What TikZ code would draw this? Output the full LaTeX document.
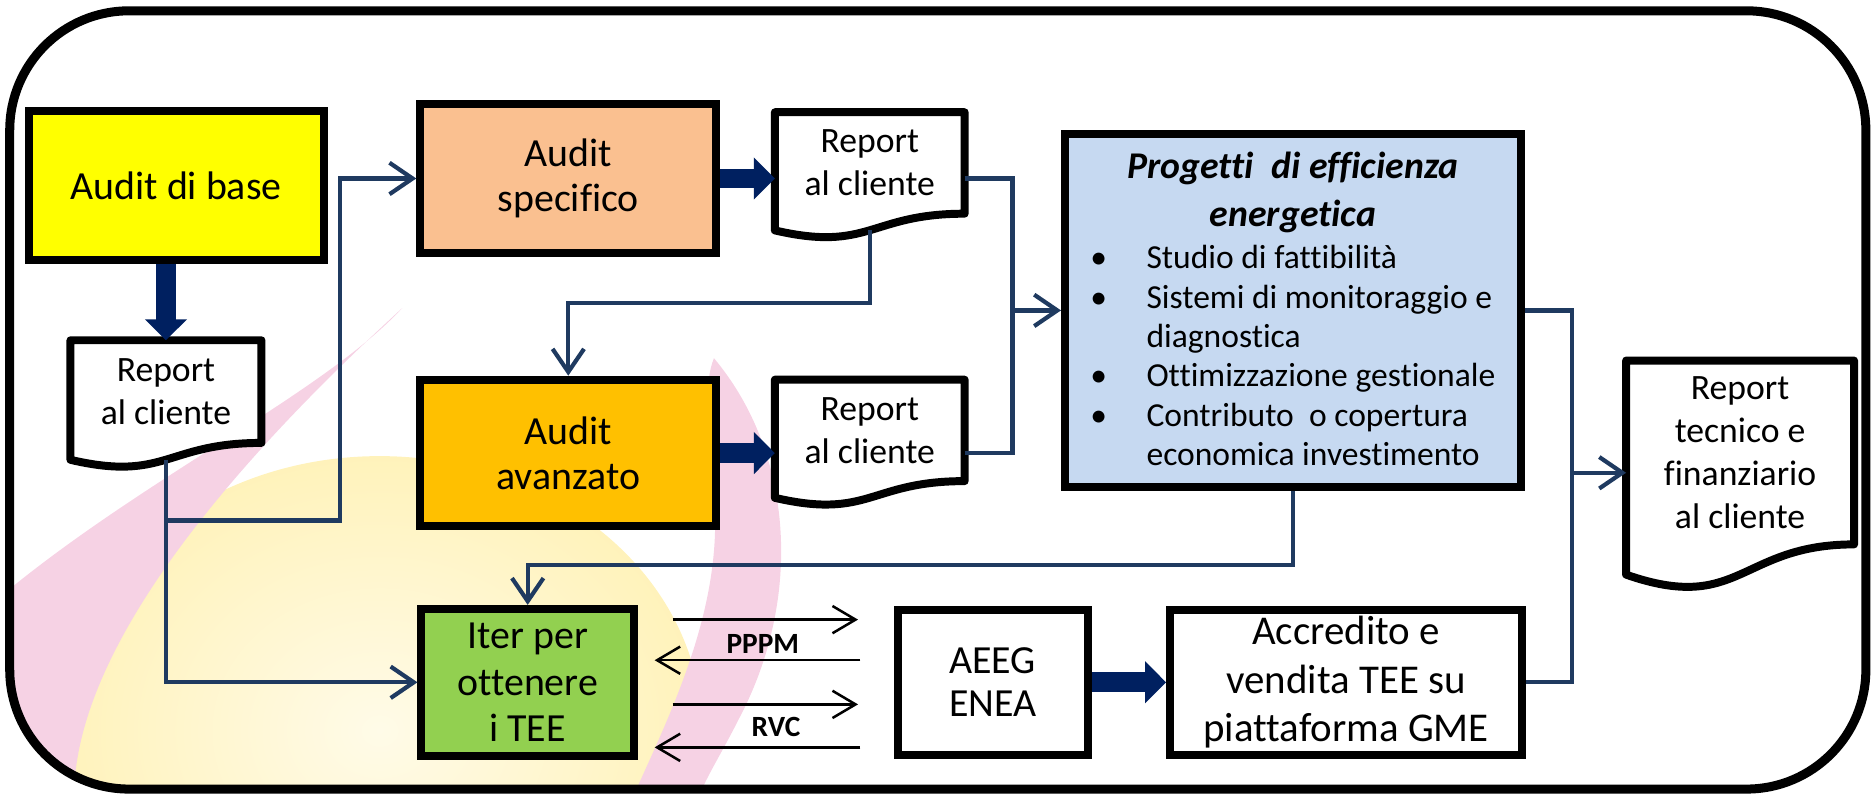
\documentclass[tikz,border=0pt]{standalone}
\usepackage{fontspec}
\setmainfont{Carlito}[Ligatures={TeX,NoCommon}]
\usetikzlibrary{arrows.meta,calc,backgrounds}
\definecolor{navyarrow}{RGB}{0,32,96}
\definecolor{linkblue}{RGB}{31,58,96}
\definecolor{basefill}{RGB}{255,255,0}
\definecolor{specfill}{RGB}{250,192,144}
\definecolor{avanfill}{RGB}{255,192,0}
\definecolor{progfill}{RGB}{198,217,241}
\definecolor{iterfill}{RGB}{146,208,80}
\definecolor{wmpink}{RGB}{246,210,228}
\definecolor{wmyellow}{RGB}{255,242,185}
\definecolor{wmyellowlt}{RGB}{255,251,232}
\pgfdeclareradialshading{wmglow}{\pgfpoint{0bp}{0bp}}{color(0bp)=(wmyellowlt); color(26bp)=(wmyellow); color(36bp)=(wmyellow); color(50bp)=(white)}
\newcommand{\docframe}[1]{%
  \begin{pgfonlayer}{background}
    \draw[docline] (#1.north west) -- (#1.north east) -- (#1.south east)
      .. controls (#1.south) and ($(#1.north)!1.381!(#1.south)$)
      .. ($(#1.north west)!1.1646!(#1.south west)$) -- cycle;
  \end{pgfonlayer}
  \coordinate (#1-bot) at ($(#1.north)!1.163!(#1.south)$);}

\begin{document}
\begin{tikzpicture}[x=0.02cm, y=-0.02cm,
  box/.style={draw=black, line width=3.8pt, align=center, inner sep=2pt},
  big/.style={font=\fontsize{19}{21.5}\selectfont},
  doc/.style={align=center, inner sep=0pt, outer sep=0pt, font=\fontsize{17}{20.5}\selectfont},
  docline/.style={draw=black, fill=white, line width=3.8pt, line join=round},
  wire/.style={linkblue, line width=2pt},
  link/.style={wire, -{Straight Barb[length=11pt,width=15pt]}},
  fat/.style={navyarrow, line width=9.4pt, -{Triangle[length=10pt,width=19.5pt]}},
  msg/.style={black, line width=1.2pt, -{Straight Barb[length=11pt,width=13pt]}}]

\useasboundingbox (0,0) rectangle (1568,668);

% ===== faint logo behind the chart =====
\begin{pgfonlayer}{background}
  \begin{scope}
    \clip[rounded corners=2cm] (8,9) rectangle (1563,661);
    \shade[shading=wmglow] (318,612) ellipse (5.4cm and 4.6cm);
    \fill[wmpink] (337,258) .. controls (270,330) and (120,400) .. (0,500)
      -- (0,668) -- (62,668) .. controls (62,560) and (160,420) .. (337,258) -- cycle;
    \fill[wmpink] (598,300) .. controls (665,380) and (672,500) .. (620,600)
      .. controls (605,630) and (592,650) .. (585,668) -- (530,668)
      .. controls (560,600) and (612,500) .. (596,400)
      .. controls (592,350) and (590,320) .. cycle;
  \end{scope}
\end{pgfonlayer}

\node[draw, line width=4.3pt, rounded corners=2cm, minimum width=31.1cm, minimum height=13.04cm] (frame) at (785.5,335) {};

% ============ audits and reports ============
\node[box, fill=basefill, big, minimum width=4.94cm, minimum height=2.5cm] (base) at (147.5,155.5) {Audit di base};
\node[box, fill=specfill, big, minimum width=4.96cm, minimum height=2.5cm] (spec) at (476,149.5) {Audit\\specifico};
\node[box, fill=avanfill, big, minimum width=4.96cm, minimum height=2.46cm] (avan) at (476,379.5) {Audit\\avanzato};

\node[doc, minimum width=3.2cm, minimum height=1.72cm] (rep1) at (139,328) {Report\\al cliente};
\docframe{rep1}
\node[doc, minimum width=3.18cm, minimum height=1.7cm] (rep2) at (728.5,136.5) {Report\\al cliente};
\docframe{rep2}
\node[doc, minimum width=3.18cm, minimum height=1.7cm] (rep3) at (728.5,360.5) {Report\\al cliente};
\docframe{rep3}

% ============ projects ============
\node[box, fill=progfill, minimum width=7.64cm, minimum height=5.92cm] (prog) at (1083,260) {};
\node[font=\fontsize{18}{22.8}\selectfont\bfseries\itshape, align=center] (progtitle) at (1083,161)
  {Progetti\ \ di efficienza\\energetica};
\node[font=\fontsize{16}{18.8}\selectfont, anchor=west, inner sep=0pt] (proglist) at (913,301)
  {\begin{tabular}{@{}p{0.94cm}@{}l@{}}
    \textbullet & Studio di fattibilità\\
    \textbullet & Sistemi di monitoraggio e\\
                & diagnostica\\
    \textbullet & Ottimizzazione gestionale\\
    \textbullet & Contributo\ \ o copertura\\
                & economica investimento
  \end{tabular}};

\node[doc, minimum width=3.82cm, minimum height=3.08cm] (rtec) at (1457.5,379) {Report\\tecnico e\\finanziario\\al cliente};
\docframe{rtec}

% ============ TEE ============
\node[box, fill=iterfill, font=\fontsize{19}{22.2}\selectfont, minimum width=3.56cm, minimum height=2.46cm] (iter) at (442,571.5) {Iter per\\ottenere\\i TEE};
\node[box, fill=white, font=\fontsize{19}{20.5}\selectfont, minimum width=3.18cm, minimum height=2.42cm] (aeeg) at (831.5,571.5) {AEEG\\ENEA};
\node[box, fill=white, font=\fontsize{19.5}{23}\selectfont, minimum width=5.9cm, minimum height=2.42cm] (accr) at (1127.5,571.5) {Accredito e\\vendita TEE su\\piattaforma GME};

\node[font=\fontsize{14}{16}\selectfont\bfseries] (pppm) at (639,539) {PPPM};
\node[font=\fontsize{14}{16}\selectfont\bfseries] (rvc) at (650,609) {RVC};
\draw[msg] ($(iter.east)+(29,-52.5)$) -- ($(aeeg.west)+(-30,-52.5)$);
\draw[msg] ($(aeeg.west)+(-28,-18.5)$) -- ($(iter.east)+(14,-18.5)$);
\draw[msg] ($(iter.east)+(29,18.5)$) -- ($(aeeg.west)+(-30,18.5)$);
\draw[msg] ($(aeeg.west)+(-28,54.5)$) -- ($(iter.east)+(14,54.5)$);

% ============ connectors ============
\draw[fat] (rep1.north |- base.south) -- (rep1.north);
\draw[fat] (spec.east) -- (rep2.west |- spec.east);
\draw[fat] (avan.east) -- (rep3.west |- avan.east);
\draw[fat] (aeeg.east) -- (accr.west |- aeeg.east);

\coordinate (j1) at (139,436);
\coordinate (j2) at (285,436);
\draw[link] (rep1-bot) |- (j2) |- (spec.west);
\draw[link] (j1) |- (iter.west);

\coordinate (k1) at (476,254);
\draw[link] (rep2-bot) |- (k1) -- (avan.north);

\coordinate (m1) at (848,260);
\draw[wire] (rep2.east |- spec.east) -| (m1);
\draw[wire] (rep3.east |- avan.east) -| (m1);
\draw[link] (m1) -- (prog.west);

\coordinate (n1) at (442,473);
\draw[link] (prog.south) |- (n1) -- (iter.north);

\coordinate (p1) at (1317,396);
\draw[wire] (prog.east) -| (p1);
\draw[wire] (accr.east) -| (p1);
\draw[link] (p1) -- (rtec.west |- p1);

\end{tikzpicture}
\end{document}
